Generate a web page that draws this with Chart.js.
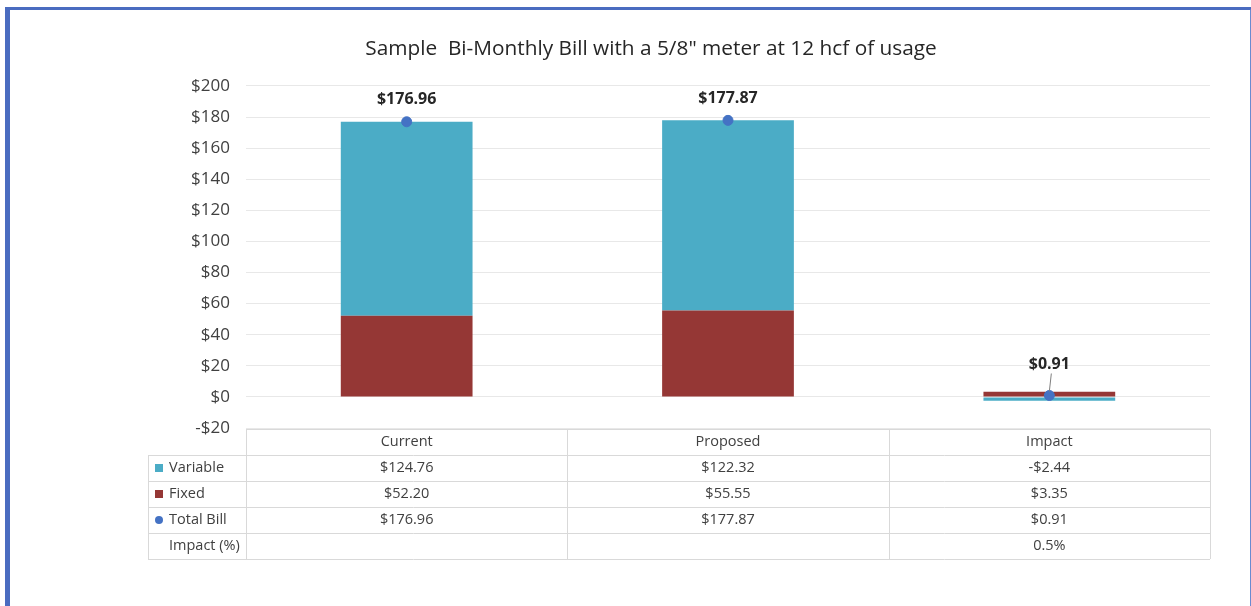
<!DOCTYPE html>
<html>
<head>
<meta charset="utf-8">
<script src="https://cdn.jsdelivr.net/npm/chart.js@4.4.1/dist/chart.umd.min.js"></script>
<style>
  html, body { margin: 0; padding: 0; background: #ffffff; }
  #wrap { position: relative; width: 1251px; height: 606px; overflow: hidden; }
  #frame {
    position: absolute; left: 5px; top: 7px; width: 1240px; height: 620px;
    border-left: 5px solid #4a6cc0; border-top: 3px solid #4a6cc0; border-right: 3px solid #6a8ad0;
  }
  canvas { position: absolute; left: 0; top: 0; }
</style>
</head>
<body>
<div id="wrap">
  <div id="frame"></div>
  <canvas id="chart" width="1251" height="606"></canvas>
</div>
<script>
// Data
const categories = ['Current', 'Proposed', 'Impact'];
const variableCharge = [124.76, 122.32, -2.44];
const fixedCharge = [52.20, 55.55, 3.35];
const totalBill = [176.96, 177.87, 0.91];
const impactPct = ['', '', '0.5%'];
const yTicks = [-20, 0, 20, 40, 60, 80, 100, 120, 140, 160, 180, 200];

// Colours
const VAR_COLOR = '#4bacc6';
const FIX_COLOR = '#953735';
const TOTAL_COLOR = '#4472c4';
const TEXT_COLOR = '#404040';
const LINE_COLOR = '#d9d9d9';
const FONT = "'Open Sans', sans-serif";

function money(v) {
    return (v < 0 ? '-' : '') + '$' + Math.abs(v).toFixed(2);
}

// Labels above the total bill points
const totalLabels = {
    id: 'totalLabels',
    afterDatasetsDraw(chart) {
        const ctx = chart.ctx;
        const meta = chart.getDatasetMeta(2);
        ctx.save();
        ctx.font = 'bold 16px ' + FONT;
        ctx.fillStyle = '#262626';
        ctx.textAlign = 'center';
        ctx.textBaseline = 'middle';
        meta.data.forEach((pt, i) => {
            const small = Math.abs(totalBill[i]) < 10;
            const off = small ? 31 : 22;
            if (small) {
                ctx.strokeStyle = '#7f7f7f';
                ctx.lineWidth = 1;
                ctx.beginPath();
                ctx.moveTo(pt.x + 2, pt.y - off + 9);
                ctx.lineTo(pt.x, pt.y - 4);
                ctx.stroke();
            }
            ctx.fillText(money(totalBill[i]), pt.x, pt.y - off);
        });
        ctx.restore();
    }
};

// Data table under the plot
const dataTable = {
    id: 'dataTable',
    afterDraw(chart) {
        const ctx = chart.ctx;
        const area = chart.chartArea;
        const x = chart.scales.x;
        const colW = (area.right - area.left) / categories.length;
        const top = area.bottom + 1;
        const rowH = 26;
        const legendLeft = 148;
        const rows = [
            { name: 'Variable', marker: 'square', color: VAR_COLOR, cells: variableCharge.map(money) },
            { name: 'Fixed', marker: 'square', color: FIX_COLOR, cells: fixedCharge.map(money) },
            { name: 'Total Bill', marker: 'circle', color: TOTAL_COLOR, cells: totalBill.map(money) },
            { name: 'Impact (%)', marker: null, cells: impactPct }
        ];
        const bottom = top + rowH * (rows.length + 1);

        ctx.save();
        ctx.strokeStyle = LINE_COLOR;
        ctx.lineWidth = 1;
        ctx.beginPath();
        // horizontal lines
        ctx.moveTo(area.left, top + 0.5);
        ctx.lineTo(area.right, top + 0.5);
        for (let r = 1; r <= rows.length + 1; r++) {
            const y = Math.round(top + r * rowH) + 0.5;
            ctx.moveTo(legendLeft, y);
            ctx.lineTo(area.right, y);
        }
        // vertical lines
        ctx.moveTo(legendLeft + 0.5, Math.round(top + rowH));
        ctx.lineTo(legendLeft + 0.5, Math.round(bottom));
        for (let c = 0; c <= categories.length; c++) {
            const xx = Math.round(area.left + c * colW) + 0.5;
            ctx.moveTo(xx, top);
            ctx.lineTo(xx, Math.round(bottom));
        }
        ctx.stroke();

        ctx.font = '14.5px ' + FONT;
        ctx.fillStyle = TEXT_COLOR;
        ctx.textBaseline = 'middle';
        ctx.textAlign = 'center';
        categories.forEach((c, i) => {
            ctx.fillText(c, x.getPixelForValue(i), top + rowH / 2);
        });
        rows.forEach((row, r) => {
            const cy = top + (r + 1) * rowH + rowH / 2;
            ctx.textAlign = 'center';
            ctx.fillStyle = TEXT_COLOR;
            row.cells.forEach((t, i) => {
                ctx.fillText(t, x.getPixelForValue(i), cy);
            });
            if (row.marker === 'square') {
                ctx.fillStyle = row.color;
                ctx.fillRect(155, cy - 4, 8, 8);
            } else if (row.marker === 'circle') {
                ctx.fillStyle = row.color;
                ctx.beginPath();
                ctx.arc(159, cy, 4, 0, Math.PI * 2);
                ctx.fill();
            }
            ctx.textAlign = 'left';
            ctx.fillStyle = TEXT_COLOR;
            ctx.fillText(row.name, 169, cy);
        });
        ctx.restore();
    }
};

new Chart(document.getElementById('chart'), {
    type: 'bar',
    data: {
        labels: categories,
        datasets: [
            { label: 'Fixed', data: fixedCharge, backgroundColor: FIX_COLOR, stack: 'bill', order: 2 },
            { label: 'Variable', data: variableCharge, backgroundColor: VAR_COLOR, stack: 'bill', order: 2 },
            {
                label: 'Total Bill', type: 'line', data: totalBill, stack: 'total', order: 0,
                showLine: false, pointRadius: 5, pointHoverRadius: 5,
                backgroundColor: TOTAL_COLOR, borderColor: TOTAL_COLOR
            }
        ]
    },
    options: {
        responsive: false,
        animation: false,
        devicePixelRatio: 1,
        layout: { padding: { left: 92, right: 41, top: 0, bottom: 178 } },
        datasets: { bar: { categoryPercentage: 1, barPercentage: 0.41 } },
        plugins: {
            legend: { display: false },
            tooltip: { enabled: false },
            title: {
                display: true,
                text: 'Sample  Bi-Monthly Bill with a 5/8" meter at 12 hcf of usage',
                color: '#262626',
                font: { family: FONT, size: 20.8, weight: 'normal' },
                padding: { top: 37, bottom: 24 }
            }
        },
        scales: {
            x: { stacked: true, display: false },
            y: {
                stacked: true,
                min: yTicks[0],
                max: yTicks[yTicks.length - 1],
                afterBuildTicks(scale) { scale.ticks = yTicks.map(v => ({ value: v })); },
                afterFit(scale) { scale.width = 246 - 92; },
                ticks: {
                    color: TEXT_COLOR,
                    padding: 16,
                    font: { family: FONT, size: 17 },
                    callback: v => (v < 0 ? '-$' : '$') + Math.abs(v)
                },
                grid: { color: '#e8e8e8', drawTicks: false },
                border: { display: false }
            }
        }
    },
    plugins: [totalLabels, dataTable]
});
</script>
</body>
</html>
